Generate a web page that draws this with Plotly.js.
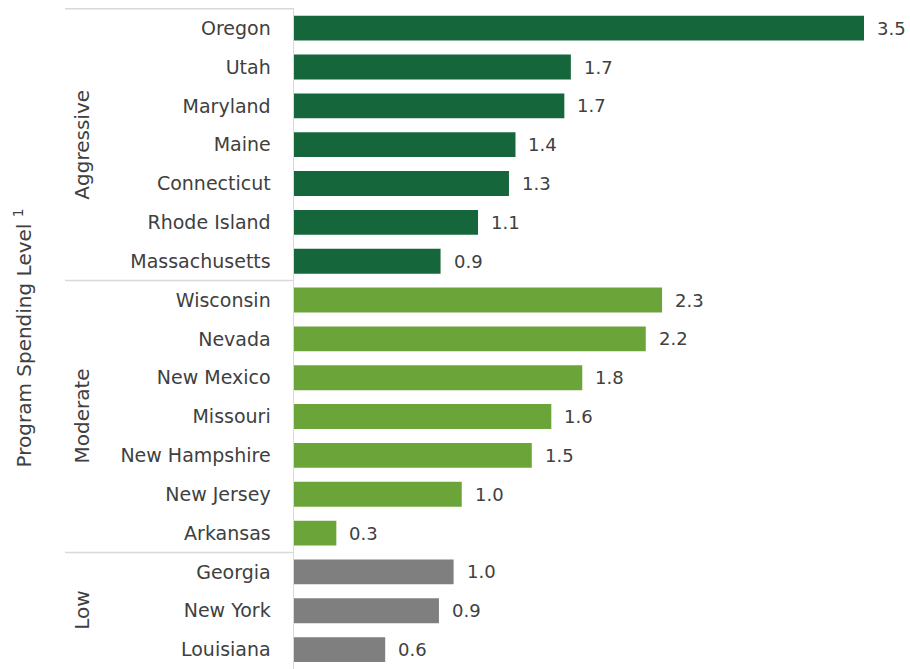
<!DOCTYPE html>
<html>
<head>
<meta charset="utf-8">
<script src="https://cdn.plot.ly/plotly-3.0.1.min.js"></script>
<style>html,body{margin:0;padding:0;background:#fff;}#chart{width:910px;height:669px;}</style>
</head>
<body>
<div id="chart"></div>
<script>
// Data
const states = ["Oregon","Utah","Maryland","Maine","Connecticut","Rhode Island","Massachusetts",
                "Wisconsin","Nevada","New Mexico","Missouri","New Hampshire","New Jersey","Arkansas",
                "Georgia","New York","Louisiana"];
const values = [3.5, 1.7, 1.66, 1.36, 1.32, 1.13, 0.9,
                2.26, 2.16, 1.77, 1.58, 1.46, 1.03, 0.26,
                0.98, 0.89, 0.56];
const groups = ["Aggressive","Moderate","Low"];
const groupSizes = [7, 7, 3];
const groupColors = ["#15673b", "#6ba539", "#7f7f7f"];

const FONT = "DejaVu Sans, Liberation Sans, Arial, sans-serif";
const TXT = "#404040";

// build per-group traces
const traces = [];
let start = 0;
groups.forEach((g, gi) => {
  const n = groupSizes[gi];
  traces.push({
    type: "bar", orientation: "h", name: g,
    y: states.slice(start, start + n),
    x: values.slice(start, start + n),
    marker: {color: groupColors[gi], line: {width: 0}},
    hoverinfo: "x+y", showlegend: false
  });
  start += n;
});

// value labels
const annotations = states.map((s, i) => ({
  x: values[i], y: s, xref: "x", yref: "y",
  text: values[i].toFixed(1), showarrow: false,
  xanchor: "left", yanchor: "middle", xshift: 11,
  font: {family: FONT, size: 18, color: TXT}
}));

// group labels & separators
const shapes = [];
const plotLeft = 294, plotW = 616;
const px = v => (v - plotLeft) / plotW;
let pos = 0;
shapes.push({type: "line", xref: "paper", yref: "y", x0: px(65), x1: px(293), y0: -0.5, y1: -0.5,
             line: {color: "#d9d9d9", width: 1.5}});
groups.forEach((g, gi) => {
  const n = groupSizes[gi];
  annotations.push({
    xref: "paper", yref: "y", x: px(82), y: pos + (n - 1) / 2,
    text: g, textangle: -90, showarrow: false, xanchor: "center", yanchor: "middle",
    font: {family: FONT, size: 20, color: TXT}
  });
  pos += n;
  if (gi < groups.length - 1) {
    shapes.push({type: "line", xref: "paper", yref: "y", x0: px(65), x1: px(293),
                 y0: pos - 0.5, y1: pos - 0.5, line: {color: "#d9d9d9", width: 1.5}});
  }
});

annotations.push({
  xref: "paper", yref: "paper", x: px(22), y: 0.5,
  text: "Program Spending Level <sup>1</sup>", textangle: -90, showarrow: false,
  xanchor: "center", yanchor: "middle",
  font: {family: FONT, size: 20, color: TXT}
});

const layout = {
  width: 910, height: 669,
  margin: {l: plotLeft, r: 0, t: 8, b: 0, pad: 0},
  paper_bgcolor: "#fff", plot_bgcolor: "#fff",
  barmode: "overlay", bargap: 0.36,
  xaxis: {range: [0, 3.5 * plotW / 570], visible: false, showgrid: false, zeroline: false, fixedrange: true},
  yaxis: {
    type: "category", categoryorder: "array", categoryarray: states,
    autorange: "reversed", showgrid: false, zeroline: false,
    showline: true, linecolor: "#d9d9d9", linewidth: 1.5,
    ticks: "", ticklabelstandoff: 18,
    tickfont: {family: FONT, size: 19, color: TXT}, fixedrange: true
  },
  shapes: shapes,
  annotations: annotations,
  showlegend: false
};

Plotly.newPlot("chart", traces, layout, {displayModeBar: false, staticPlot: true});
</script>
</body>
</html>
